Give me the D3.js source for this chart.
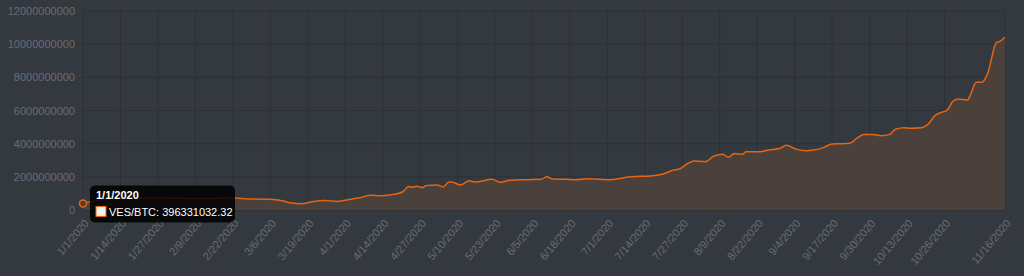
<!DOCTYPE html>
<html>
<head>
<meta charset="utf-8">
<script src="https://cdn.jsdelivr.net/npm/d3@7"></script>
<style>
  html, body { margin: 0; padding: 0; background: #343940; }
  svg { display: block; }
  text { font-family: "Liberation Sans", Arial, Helvetica, sans-serif; }
</style>
</head>
<body>
<div id="chart"></div>
<script>
// VES/BTC daily rate, 2020
const dates = [
  "1/1/2020","1/5/2020","1/10/2020","1/24/2020","2/11/2020","2/23/2020","2/27/2020",
  "3/6/2020","3/10/2020","3/13/2020","3/17/2020","3/20/2020","3/25/2020","3/29/2020",
  "4/3/2020","4/6/2020","4/10/2020","4/13/2020","4/17/2020","4/19/2020","4/21/2020",
  "4/23/2020","4/24/2020","4/26/2020","4/28/2020","4/29/2020","5/3/2020","5/5/2020",
  "5/7/2020","5/8/2020","5/11/2020","5/14/2020","5/16/2020","5/22/2020","5/25/2020",
  "5/28/2020","6/3/2020","6/8/2020","6/10/2020","6/12/2020","6/17/2020","6/20/2020",
  "6/24/2020","6/28/2020","7/2/2020","7/5/2020","7/9/2020","7/12/2020","7/16/2020",
  "7/20/2020","7/24/2020","7/26/2020","7/29/2020","7/31/2020","8/4/2020","8/7/2020",
  "8/10/2020","8/12/2020","8/14/2020","8/17/2020","8/18/2020","8/23/2020","8/26/2020",
  "8/30/2020","9/1/2020","9/5/2020","9/8/2020","9/10/2020","9/14/2020","9/17/2020",
  "9/21/2020","9/23/2020","9/26/2020","9/28/2020","10/1/2020","10/4/2020","10/7/2020",
  "10/9/2020","10/12/2020","10/14/2020","10/18/2020","10/20/2020","10/23/2020","10/25/2020",
  "10/27/2020","10/29/2020","10/31/2020","11/3/2020","11/4/2020","11/6/2020","11/8/2020",
  "11/10/2020","11/13/2020","11/14/2020","11/16/2020"
];

// in billions
const rates = [
  0.39633103232, 0.55, 0.68, 0.72, 0.70, 0.72, 0.66,
  0.65, 0.56, 0.44, 0.38, 0.48, 0.58, 0.52,
  0.65, 0.74, 0.89, 0.86, 0.92, 0.98, 1.10,
  1.41, 1.37, 1.43, 1.35, 1.47, 1.51, 1.39,
  1.69, 1.69, 1.51, 1.77, 1.69, 1.85, 1.67,
  1.79, 1.83, 1.85, 2.01, 1.87, 1.85, 1.83,
  1.89, 1.85, 1.83, 1.89, 2.01, 2.03, 2.05,
  2.15, 2.41, 2.47, 2.82, 2.96, 2.91, 3.26,
  3.36, 3.18, 3.40, 3.36, 3.52, 3.52, 3.62,
  3.72, 3.90, 3.64, 3.58, 3.60, 3.76, 3.98,
  4.00, 4.02, 4.38, 4.56, 4.56, 4.48, 4.56,
  4.87, 4.96, 4.93, 4.96, 5.13, 5.73, 5.89,
  6.03, 6.57, 6.69, 6.63, 6.94, 7.70, 7.70,
  8.24, 10.09, 10.15, 10.42
];

const xTickLabels = [
  "1/1/2020","1/14/2020","1/27/2020","2/9/2020","2/22/2020","3/6/2020","3/19/2020",
  "4/1/2020","4/14/2020","4/27/2020","5/10/2020","5/23/2020","6/5/2020","6/18/2020",
  "7/1/2020","7/14/2020","7/27/2020","8/9/2020","8/22/2020","9/4/2020","9/17/2020",
  "9/30/2020","10/13/2020","10/26/2020","11/16/2020"
];
const yTicks = [0, 2e9, 4e9, 6e9, 8e9, 10e9, 12e9];

const seriesName = "VES/BTC";
const hoverIndex = 0;

const width = 1024, height = 276;
const margin = { top: 11, right: 19, bottom: 66, left: 83 };

const parse = d3.utcParse("%m/%d/%Y");
const data = dates.map((d, i) => ({ date: parse(d), value: rates[i] * 1e9 }));

const svg = d3.select("#chart").append("svg")
  .attr("width", width)
  .attr("height", height);

const x = d3.scaleUtc()
  .domain([parse(dates[0]), parse(dates[dates.length - 1])])
  .range([margin.left, width - margin.right]);

const y = d3.scaleLinear()
  .domain([0, 12e9])
  .range([height - margin.bottom, margin.top]);

const gridColor = "#2d3136";
const labelColor = "#686c72";

// grid
svg.append("g")
  .selectAll("line")
  .data(yTicks)
  .join("line")
  .attr("x1", margin.left).attr("x2", width - margin.right)
  .attr("y1", d => y(d)).attr("y2", d => y(d))
  .attr("stroke", gridColor);

svg.append("g")
  .selectAll("line")
  .data(xTickLabels)
  .join("line")
  .attr("x1", d => x(parse(d))).attr("x2", d => x(parse(d)))
  .attr("y1", margin.top).attr("y2", height - margin.bottom)
  .attr("stroke", gridColor);

// y axis labels
const yAxis = svg.append("g")
  .attr("transform", `translate(${margin.left},0)`)
  .call(d3.axisLeft(y).tickValues(yTicks).tickFormat(d3.format("d")).tickSize(0).tickPadding(8));
yAxis.select(".domain").remove();
yAxis.selectAll("text")
  .attr("fill", labelColor)
  .style("font-size", "11px")
  .style("font-family", "'Liberation Sans', Arial, sans-serif");

// x axis labels
const xAxis = svg.append("g")
  .attr("transform", `translate(0,${height - margin.bottom})`)
  .call(d3.axisBottom(x).tickValues(xTickLabels.map(parse)).tickFormat(d3.utcFormat("%-m/%-d/%Y")).tickSize(0));
xAxis.select(".domain").remove();
xAxis.selectAll("text")
  .attr("fill", labelColor)
  .style("font-size", "11px")
  .style("font-family", "'Liberation Sans', Arial, sans-serif")
  .attr("text-anchor", "end")
  .attr("dy", "0.35em")
  .attr("transform", "translate(3,11) rotate(-50)")
  .attr("y", 0);

// area + line
const area = d3.area()
  .x(d => x(d.date))
  .y0(y(0))
  .y1(d => y(d.value))
  .curve(d3.curveMonotoneX);

const line = d3.line()
  .x(d => x(d.date))
  .y(d => y(d.value))
  .curve(d3.curveMonotoneX);

svg.append("path")
  .datum(data)
  .attr("fill", "#4a413c")
  .attr("d", area);

svg.append("line")
  .attr("x1", margin.left).attr("x2", width - margin.right)
  .attr("y1", y(0) + 0.5).attr("y2", y(0) + 0.5)
  .attr("stroke", "#2a2d31")
  .attr("stroke-dasharray", "1,1");

svg.append("path")
  .datum(data)
  .attr("fill", "none")
  .attr("stroke", "#e8640f")
  .attr("stroke-width", 1.5)
  .attr("d", line);

// hovered point + tooltip
const hp = data[hoverIndex];
const px = x(hp.date), py = y(hp.value);

svg.append("circle")
  .attr("cx", px).attr("cy", py)
  .attr("r", 3.5)
  .attr("fill", "#4a413c")
  .attr("stroke", "#e8640f")
  .attr("stroke-width", 1.5);

const tip = svg.append("g")
  .attr("transform", `translate(${px + 7},${py - 18})`);

tip.append("rect")
  .attr("width", 145).attr("height", 37)
  .attr("rx", 5)
  .attr("fill", "rgba(0,0,0,0.85)");

tip.append("text")
  .attr("x", 6).attr("y", 14)
  .attr("fill", "#fff")
  .style("font-size", "11px")
  .style("font-weight", "bold")
  .text(dates[hoverIndex]);

tip.append("rect")
  .attr("x", 6).attr("y", 21)
  .attr("width", 10).attr("height", 10)
  .attr("fill", "#f4efe9")
  .attr("stroke", "#e8640f")
  .attr("stroke-width", 1);

tip.append("text")
  .attr("x", 19).attr("y", 31)
  .attr("fill", "#fff")
  .style("font-size", "11px")
  .text(`${seriesName}: ${d3.format(".2f")(hp.value)}`);
</script>
</body>
</html>
